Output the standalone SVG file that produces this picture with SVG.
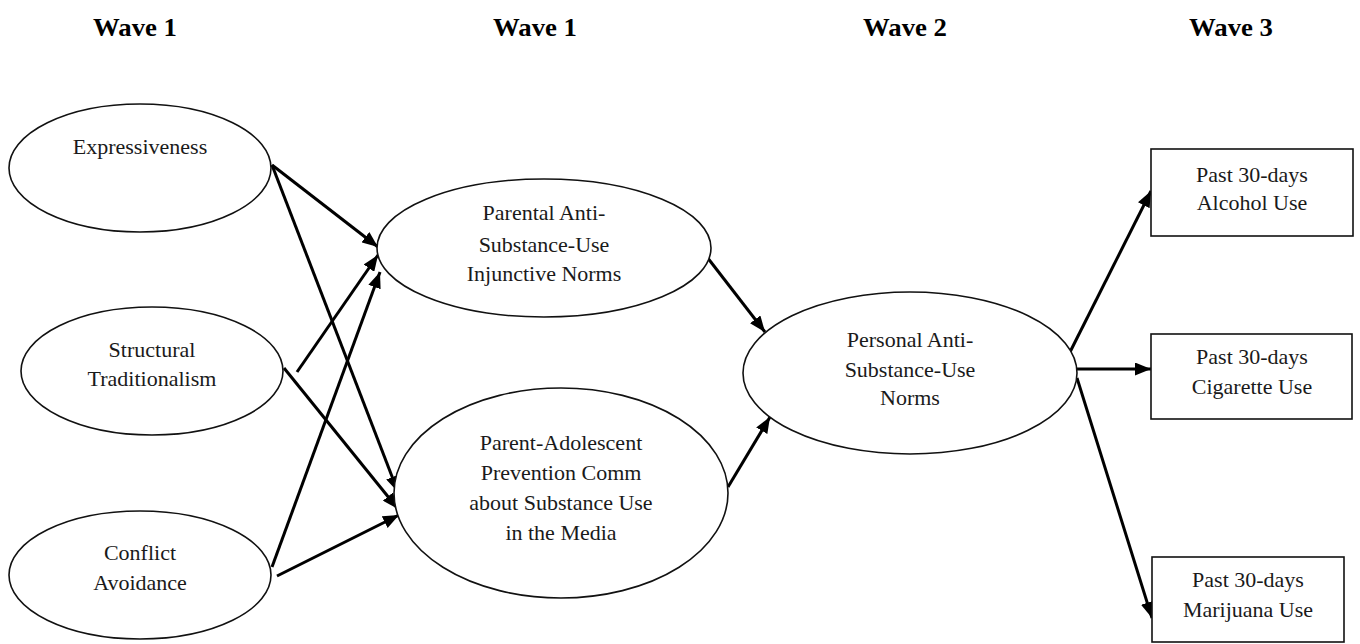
<svg xmlns="http://www.w3.org/2000/svg" width="1360" height="644" viewBox="0 0 1360 644">
<style>
.node ellipse, .node rect { fill: #ffffff; stroke: #111111; stroke-width: 1.6; }
.lbl { font-family: "Liberation Serif", "Times New Roman", serif; font-size: 22px; fill: #1a1a1a; text-anchor: middle; }
.hdr { font-family: "Liberation Serif", "Times New Roman", serif; font-size: 25px; font-weight: bold; fill: #000000; text-anchor: middle; }
.edge { stroke: #000000; stroke-width: 3; fill: none; marker-end: url(#arr); }
</style>
<defs>
<marker id="arr" markerUnits="userSpaceOnUse" markerWidth="17" markerHeight="13" refX="16" refY="6.5" orient="auto">
<path d="M0,0 L16,6.5 L0,13 z" fill="#000000"/>
</marker>
</defs>
<rect width="1360" height="644" fill="#ffffff"/>
<g id="headers">
<text class="hdr" x="135" y="36" textLength="84" lengthAdjust="spacingAndGlyphs">Wave 1</text>
<text class="hdr" x="535" y="36" textLength="84" lengthAdjust="spacingAndGlyphs">Wave 1</text>
<text class="hdr" x="905" y="36" textLength="84" lengthAdjust="spacingAndGlyphs">Wave 2</text>
<text class="hdr" x="1231" y="36" textLength="84" lengthAdjust="spacingAndGlyphs">Wave 3</text>
</g>
<g id="connectors">
<line class="edge" x1="272" y1="165" x2="378" y2="247"/>
<line class="edge" x1="272" y1="165" x2="398" y2="492"/>
<line class="edge" x1="297" y1="372" x2="378" y2="255"/>
<line class="edge" x1="284" y1="368" x2="398" y2="509"/>
<line class="edge" x1="272" y1="567" x2="380" y2="272"/>
<line class="edge" x1="277" y1="576" x2="399" y2="515"/>
<line class="edge" x1="707" y1="257" x2="765" y2="332"/>
<line class="edge" x1="728" y1="487" x2="770" y2="417"/>
<line class="edge" x1="1070" y1="352" x2="1151" y2="191"/>
<line class="edge" x1="1075" y1="369" x2="1151" y2="369"/>
<line class="edge" x1="1077" y1="378" x2="1152" y2="618"/>
</g>
<g id="expressiveness" class="node">
<ellipse cx="140" cy="168" rx="131" ry="64"/>
<text class="lbl" x="140" y="154">Expressiveness</text>
</g>
<g id="structural" class="node">
<ellipse cx="152" cy="371" rx="131" ry="64"/>
<text class="lbl" x="152" y="357">Structural</text>
<text class="lbl" x="152" y="386">Traditionalism</text>
</g>
<g id="conflict" class="node">
<ellipse cx="140" cy="575" rx="131" ry="64"/>
<text class="lbl" x="140" y="560">Conflict</text>
<text class="lbl" x="140" y="590">Avoidance</text>
</g>
<g id="parental" class="node">
<ellipse cx="544" cy="248" rx="167" ry="69"/>
<text class="lbl" x="544" y="220">Parental Anti-</text>
<text class="lbl" x="544" y="252">Substance-Use</text>
<text class="lbl" x="544" y="281">Injunctive Norms</text>
</g>
<g id="prevention" class="node">
<ellipse cx="561" cy="493" rx="167" ry="105"/>
<text class="lbl" x="561" y="450">Parent-Adolescent</text>
<text class="lbl" x="561" y="480">Prevention Comm</text>
<text class="lbl" x="561" y="510">about Substance Use</text>
<text class="lbl" x="561" y="540">in the Media</text>
</g>
<g id="personal" class="node">
<ellipse cx="910" cy="373" rx="167" ry="81"/>
<text class="lbl" x="910" y="347">Personal Anti-</text>
<text class="lbl" x="910" y="377">Substance-Use</text>
<text class="lbl" x="910" y="405">Norms</text>
</g>
<g id="alcohol" class="node">
<rect x="1151" y="149" width="202" height="87"/>
<text class="lbl" x="1252" y="182">Past 30-days</text>
<text class="lbl" x="1252" y="210">Alcohol Use</text>
</g>
<g id="cigarette" class="node">
<rect x="1151" y="334" width="201" height="85"/>
<text class="lbl" x="1252" y="364">Past 30-days</text>
<text class="lbl" x="1252" y="394">Cigarette Use</text>
</g>
<g id="marijuana" class="node">
<rect x="1152" y="557" width="192" height="85"/>
<text class="lbl" x="1248" y="587">Past 30-days</text>
<text class="lbl" x="1248" y="617">Marijuana Use</text>
</g>
</svg>
